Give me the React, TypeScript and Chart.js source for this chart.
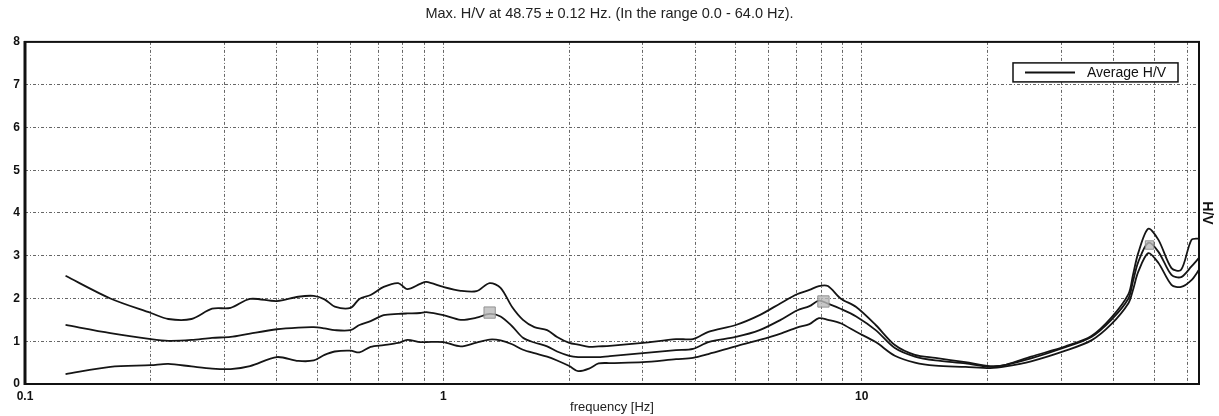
import { useEffect, useRef } from 'react';
import { Chart, registerables } from 'chart.js';

Chart.register(...registerables);

const titleText = 'Max. H/V at 48.75 \u00b1 0.12 Hz. (In the range 0.0 - 64.0 Hz).';
const xTitle = 'frequency [Hz]';
const yTitle = 'H/V';
const legendLabel = 'Average H/V';

const freqHz = [
  0.125, 0.16, 0.2, 0.22, 0.25, 0.28, 0.31, 0.345, 0.4, 0.45, 0.49, 0.52, 0.55, 0.6, 0.63, 0.67,
  0.72, 0.78, 0.82, 0.88, 0.91, 1.0, 1.1, 1.2, 1.29, 1.37, 1.46, 1.55, 1.65, 1.77, 1.87, 2.0,
  2.1, 2.23, 2.35, 2.5, 3.0, 3.6, 3.95, 4.3, 5.0, 5.7, 6.4, 7.0, 7.5, 7.9, 8.3, 8.9,
  9.7, 10.8, 12.0, 13.4, 15.0, 17.7, 20.3, 22.1, 25.4, 30.7, 35.4, 39.5, 43.4, 44.5, 45.8, 48.4,
  51.2, 55.0, 58.0, 61.4, 64.0,
];

const upperHV = [
  2.53, 2.0, 1.66, 1.52, 1.52, 1.76, 1.78, 1.99, 1.94, 2.04, 2.06, 1.98, 1.81, 1.78, 1.99, 2.08,
  2.27, 2.36, 2.22, 2.34, 2.39, 2.27, 2.18, 2.17, 2.36, 2.25, 1.8, 1.5, 1.33, 1.26, 1.1, 0.96,
  0.92, 0.87, 0.88, 0.89, 0.96, 1.05, 1.05, 1.22, 1.38, 1.61, 1.89, 2.1, 2.2, 2.29, 2.29, 2.0,
  1.8, 1.38, 0.91, 0.68, 0.61, 0.51, 0.42, 0.45, 0.64, 0.88, 1.12, 1.55, 2.1, 2.55, 3.06, 3.63,
  3.37, 2.71, 2.67, 3.37, 3.4,
];

const averageHV = [
  1.38, 1.19, 1.05, 1.01, 1.03, 1.08, 1.1, 1.18, 1.28, 1.32, 1.33, 1.3, 1.26, 1.26, 1.38, 1.47,
  1.61, 1.64, 1.65, 1.66, 1.68, 1.61, 1.5, 1.55, 1.64, 1.58, 1.35, 1.08, 0.97, 0.88, 0.76, 0.66,
  0.63, 0.63, 0.63, 0.65, 0.72, 0.79, 0.82, 0.98, 1.1, 1.26, 1.5, 1.72, 1.82, 1.95, 1.88, 1.76,
  1.58, 1.26, 0.84, 0.64, 0.55, 0.48, 0.4, 0.45, 0.6, 0.86, 1.1, 1.5, 2.0, 2.4, 2.85, 3.3,
  3.09, 2.55, 2.5, 2.75, 2.95,
];

const lowerHV = [
  0.23, 0.4, 0.44, 0.47, 0.41, 0.36, 0.35, 0.42, 0.63, 0.54, 0.55, 0.68, 0.76, 0.78, 0.74, 0.87,
  0.91, 0.96, 1.03, 0.98, 0.98, 0.98, 0.88, 0.97, 1.04, 1.02, 0.93, 0.8, 0.72, 0.64, 0.55, 0.42,
  0.3, 0.36, 0.48, 0.49, 0.51, 0.58, 0.61, 0.7, 0.88, 1.03, 1.18, 1.32, 1.4, 1.54, 1.5, 1.42,
  1.22, 0.98, 0.66, 0.5, 0.43, 0.4, 0.37, 0.41, 0.53, 0.78, 1.02, 1.4, 1.89, 2.2, 2.62, 3.06,
  2.83, 2.32, 2.27, 2.43, 2.67,
];

const peakFreqs = [1.29, 8.1, 48.75];
const peakValues = [1.67, 1.93, 3.25];
const peakSizes = [8, 8, 6];

const gridFreqs = [
  0.1, 0.2, 0.3, 0.4, 0.5, 0.6, 0.7, 0.8, 0.9,
  1, 2, 3, 4, 5, 6, 7, 8, 9,
  10, 20, 30, 40, 50, 60,
];
const labeledFreqs = [0.1, 1, 10];
const yTickValues = [0, 1, 2, 3, 4, 5, 6, 7, 8];

const FONT = '"Liberation Sans", Arial, sans-serif';

const toPoints = (xs: number[], ys: number[]) => xs.map((x, i) => ({ x, y: ys[i] }));

const framePlugin = {
  id: 'frameAndLegend',
  afterDatasetsDraw(chart: any) {
    const { ctx, chartArea: a } = chart;
    ctx.save();
    ctx.setLineDash([]);
    ctx.strokeStyle = '#111';
    ctx.lineWidth = 2;
    ctx.strokeRect(a.left, a.top, a.right - a.left, a.bottom - a.top);
    ctx.lineWidth = 3;
    ctx.beginPath();
    ctx.moveTo(a.left, a.top - 1);
    ctx.lineTo(a.left, a.bottom + 1);
    ctx.stroke();

    // legend box
    const w = 165;
    const h = 19;
    const lx = a.right - 186;
    const ly = a.top + 21;
    ctx.fillStyle = '#fff';
    ctx.fillRect(lx, ly, w, h);
    ctx.lineWidth = 1.5;
    ctx.strokeStyle = '#111';
    ctx.strokeRect(lx, ly, w, h);
    ctx.lineWidth = 2;
    ctx.beginPath();
    ctx.moveTo(lx + 12, ly + h / 2);
    ctx.lineTo(lx + 62, ly + h / 2);
    ctx.stroke();
    ctx.fillStyle = '#111';
    ctx.font = `14px ${FONT}`;
    ctx.textBaseline = 'middle';
    ctx.textAlign = 'left';
    ctx.fillText(legendLabel, lx + 74, ly + h / 2 + 1);
    ctx.restore();
  },
};

export default function App() {
  const ref = useRef<HTMLCanvasElement>(null);

  useEffect(() => {
    if (!ref.current) return;
    const lineStyle = {
      type: 'line' as const,
      borderColor: '#151515',
      borderWidth: 1.8,
      pointRadius: 0,
      tension: 0.3,
      fill: false,
      order: 1,
    };
    const chart = new Chart(ref.current, {
      type: 'line',
      data: {
        datasets: [
          {
            type: 'scatter',
            label: 'peaks',
            data: toPoints(peakFreqs, peakValues),
            pointStyle: 'rect',
            pointRadius: peakSizes,
            backgroundColor: 'rgba(185,185,185,0.8)',
            borderColor: 'rgba(140,140,140,0.9)',
            borderWidth: 1,
            showLine: false,
            order: 0,
          } as any,
          { ...lineStyle, label: 'upper', data: toPoints(freqHz, upperHV) },
          { ...lineStyle, label: legendLabel, data: toPoints(freqHz, averageHV) },
          { ...lineStyle, label: 'lower', data: toPoints(freqHz, lowerHV) },
        ],
      },
      options: {
        animation: false,
        responsive: false,
        maintainAspectRatio: false,
        layout: { padding: 0 },
        plugins: {
          legend: { display: false },
          tooltip: { enabled: false },
          title: {
            display: true,
            text: titleText,
            color: '#222',
            font: { family: FONT, size: 14.5, weight: 'normal' },
            padding: { top: 5.5, bottom: 19 },
          },
        },
        scales: {
          x: {
            type: 'logarithmic',
            min: 0.1,
            max: 64,
            afterBuildTicks: (scale: any) => {
              scale.ticks = gridFreqs.map((v) => ({ value: v }));
            },
            afterFit: (scale: any) => {
              scale.height = 32;
            },
            ticks: {
              autoSkip: false,
              maxRotation: 0,
              padding: 5,
              color: '#111',
              font: { family: FONT, size: 12, weight: 'bold' },
              callback: (v: any) => (labeledFreqs.includes(Number(v)) ? String(v) : ''),
            },
            grid: { color: '#666', lineWidth: 1, drawTicks: false },
            border: { display: false, dash: [3, 2, 1, 2] },
            title: {
              display: true,
              text: xTitle,
              color: '#222',
              font: { family: FONT, size: 13, weight: 'normal' },
              padding: { top: 0, bottom: 1 },
            },
          },
          y: {
            type: 'linear',
            position: 'left',
            min: 0,
            max: 8,
            afterBuildTicks: (scale: any) => {
              scale.ticks = yTickValues.map((v) => ({ value: v }));
            },
            afterFit: (scale: any) => {
              scale.width = 25;
            },
            ticks: {
              padding: 5,
              color: '#111',
              font: { family: FONT, size: 12, weight: 'bold' },
            },
            grid: { color: '#666', lineWidth: 1, drawTicks: false },
            border: { display: false, dash: [3, 2, 1, 2] },
          },
          y2: {
            type: 'linear',
            position: 'right',
            min: 0,
            max: 8,
            afterFit: (scale: any) => {
              scale.width = 20;
            },
            ticks: { display: false },
            grid: { display: false, drawTicks: false },
            border: { display: false },
            title: {
              display: true,
              text: yTitle,
              color: '#111',
              font: { family: FONT, size: 14, weight: 'bold' },
              padding: { top: 3.5, bottom: 0 },
            },
          },
        },
      },
      plugins: [framePlugin],
    });
    return () => chart.destroy();
  }, []);

  return (
    <div style={{ position: 'absolute', left: 0, top: 0, width: 1219, height: 416, background: '#fff' }}>
      <canvas ref={ref} width={1219} height={416} style={{ display: 'block', width: 1219, height: 416 }} />
    </div>
  );
}
